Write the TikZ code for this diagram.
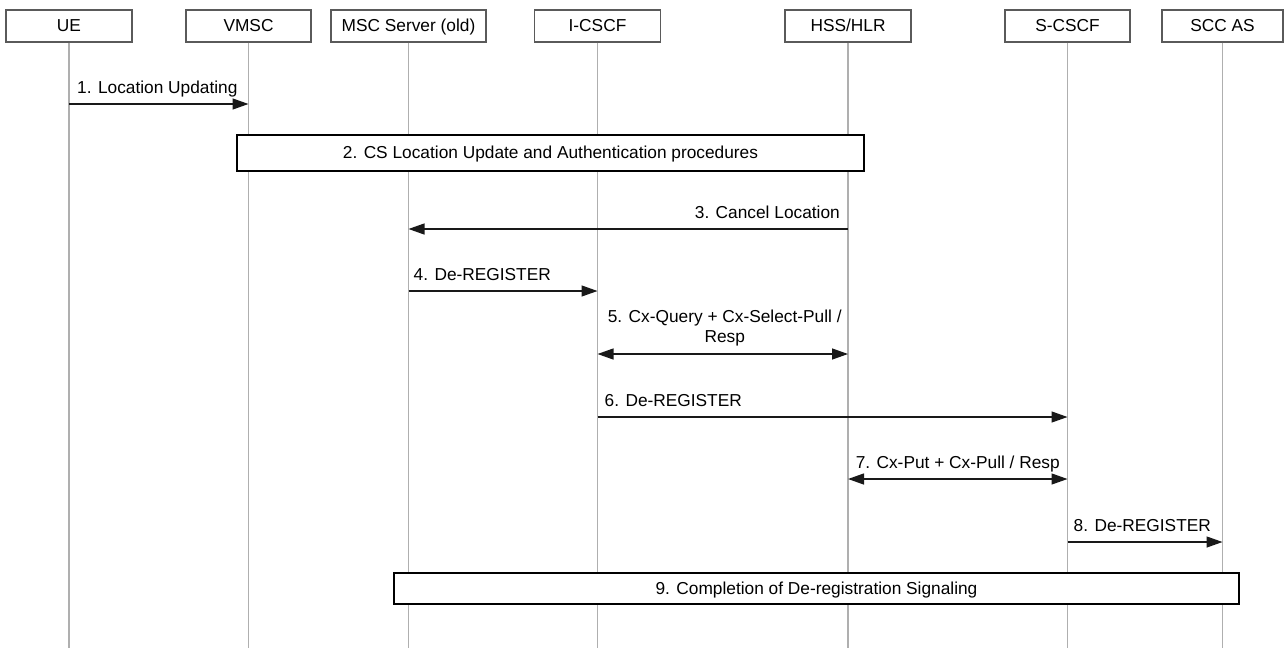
\documentclass[tikz,border=0pt]{standalone}
\usepackage{fontspec}
\setmainfont{Liberation Sans}
\usetikzlibrary{arrows.meta,calc}
\definecolor{lifeg}{RGB}{175,175,175}
\definecolor{hdrg}{RGB}{90,90,90}
\definecolor{msgc}{RGB}{25,25,25}
\begin{document}
\begin{tikzpicture}[x=1pt,y=-1pt, font=\fontsize{17.3}{20}\selectfont,
  hdr/.style={draw=hdrg, line width=1.1pt, minimum height=32pt, inner sep=0pt, text height=12.4pt, text depth=1pt},
  life/.style={draw=lifeg, line width=1.1pt},
  msg/.style={draw=msgc, line width=1.3pt, -{Triangle[length=16pt,width=11pt]}},
  dmsg/.style={draw=msgc, line width=1.3pt, {Triangle[length=16pt,width=11pt]}-{Triangle[length=16pt,width=11pt]}},
  lbl/.style={inner sep=0pt},
  proc/.style={draw=black, line width=1.4pt, fill=white, inner sep=0pt, text height=12.4pt, text depth=1pt}]

\useasboundingbox (0,0) rectangle (1284,648);

% header boxes
\node[hdr, minimum width=126pt] (ue) at (69,26) {UE};
\node[hdr, minimum width=125pt] (vmsc) at (248.5,26) {VMSC};
\node[hdr, minimum width=155pt] (msc) at (408.5,26) {MSC Server (old)};
\node[hdr, minimum width=126pt] (icscf) at (597.5,26) {I-CSCF};
\node[hdr, minimum width=126pt] (hss) at (848,26) {HSS/HLR};
\node[hdr, minimum width=125pt] (scscf) at (1067.5,26) {S-CSCF};
\node[hdr, minimum width=121pt] (sccas) at (1222.5,26) {SCC AS};

% lifelines
\coordinate (bot) at (0,648);
\foreach \n in {ue,vmsc,msc,icscf,hss,scscf,sccas}
  \draw[life] (\n.south) -- (\n.south |- bot);

% message levels
\coordinate (m1) at (0,104);
\coordinate (m3) at (0,229);
\coordinate (m4) at (0,291);
\coordinate (m5) at (0,354);
\coordinate (m6) at (0,417);
\coordinate (m7) at (0,479);
\coordinate (m8) at (0,542);

% 1
\draw[msg] (ue |- m1) -- (vmsc |- m1);
\node[lbl, anchor=base west] (t1) at ($(ue |- m1)+(8,-11)$) {1. Location Updating};

% 2
\node[proc, minimum width=627pt, minimum height=36pt] (p2) at (550.5,153) {2. CS Location Update and Authentication procedures};

% 3
\draw[msg] (hss |- m3) -- (msc |- m3);
\node[lbl, anchor=base east] (t3) at ($(hss |- m3)+(-8,-11)$) {3. Cancel Location};

% 4
\draw[msg] (msc |- m4) -- (icscf |- m4);
\node[lbl, anchor=base west] (t4) at ($(msc |- m4)+(5,-11)$) {4. De-REGISTER};

% 5
\draw[dmsg] (icscf |- m5) -- (hss |- m5);
\node[lbl, anchor=south, align=center] (t5) at ($(icscf |- m5)!0.5!(hss |- m5)+(2,-8)$) {5. Cx-Query + Cx-Select-Pull /\\Resp};

% 6
\draw[msg] (icscf |- m6) -- (scscf |- m6);
\node[lbl, anchor=base west] (t6) at ($(icscf |- m6)+(7,-11)$) {6. De-REGISTER};

% 7
\draw[dmsg] (hss |- m7) -- (scscf |- m7);
\node[lbl, anchor=base] (t7) at ($(hss |- m7)!0.5!(scscf |- m7)+(0,-11)$) {7. Cx-Put + Cx-Pull / Resp};

% 8
\draw[msg] (scscf |- m8) -- (sccas |- m8);
\node[lbl, anchor=base west] (t8) at ($(scscf |- m8)+(6,-11)$) {8. De-REGISTER};

% 9
\node[proc, minimum width=845pt, minimum height=31pt] (p9) at (816.5,588.5) {9. Completion of De-registration Signaling};

\end{tikzpicture}
\end{document}
